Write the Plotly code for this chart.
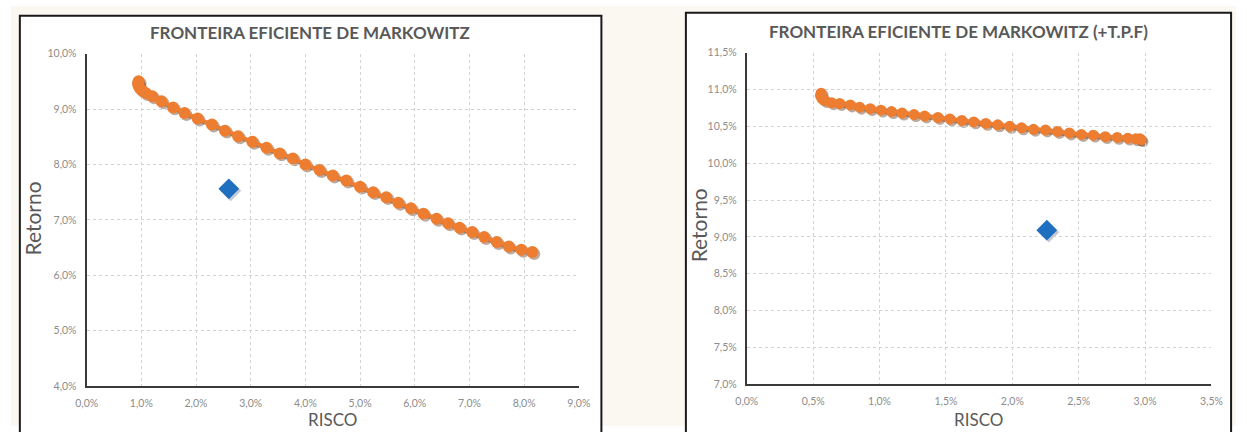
import plotly.graph_objects as go

W, H = 1247, 432

# ---- data (percent) ----
left_title = "FRONTEIRA EFICIENTE DE MARKOWITZ"
left_risk = [0.95, 0.94, 0.95, 0.97, 1.01, 1.08, 1.20, 1.37, 1.58, 1.79,
             2.03, 2.29, 2.53, 2.77, 3.03, 3.29, 3.53, 3.77, 4.00, 4.26,
             4.50, 4.75, 5.00, 5.24, 5.48, 5.70, 5.93, 6.16, 6.40, 6.61,
             6.82, 7.05, 7.27, 7.50, 7.72, 7.95, 8.15]
left_return = [9.50, 9.46, 9.42, 9.38, 9.34, 9.29, 9.23, 9.14, 9.03, 8.93,
               8.83, 8.72, 8.61, 8.51, 8.41, 8.30, 8.20, 8.11, 8.00, 7.90,
               7.80, 7.71, 7.60, 7.50, 7.41, 7.31, 7.21, 7.11, 7.02, 6.94,
               6.86, 6.78, 6.69, 6.60, 6.52, 6.46, 6.42]
left_portfolio_risk = [2.60]
left_portfolio_return = [7.56]

right_title = "FRONTEIRA EFICIENTE DE MARKOWITZ (+T.P.F)"
right_risk = [0.56, 0.555, 0.565, 0.59, 0.64, 0.70, 0.78, 0.85, 0.93, 1.01,
              1.09, 1.17, 1.26, 1.34, 1.44, 1.53, 1.62, 1.71, 1.80, 1.89,
              1.98, 2.07, 2.16, 2.25, 2.34, 2.43, 2.52, 2.61, 2.70, 2.79,
              2.87, 2.93, 2.96, 2.97]
right_return = [10.95, 10.92, 10.88, 10.85, 10.82, 10.81, 10.79, 10.76, 10.74, 10.72,
                10.70, 10.68, 10.66, 10.64, 10.62, 10.60, 10.58, 10.56, 10.54, 10.52,
                10.50, 10.48, 10.46, 10.45, 10.43, 10.41, 10.39, 10.38, 10.36, 10.35,
                10.34, 10.33, 10.33, 10.32]
right_portfolio_risk = [2.26]
right_portfolio_return = [9.09]

x_label = "RISCO"
y_label = "Retorno"

# ---- styling ----
FONT = "Lato"
ORANGE = "#ED7D31"
BLUE = "#1F6FC0"
SHADOW = "rgba(90,45,15,0.40)"
TICK_GRAY = "#8c8c8c"
TEXT_GRAY = "#595959"
CREAM = "#fbf7f1"


def px_x(p):
    return p / W


def px_y(p):
    return 1 - p / H


# plot-area boxes in pixels: (left, right, top, bottom)
L_BOX = (77, 578, 49, 391)
R_BOX = (749, 1222, 48, 389)
# outer chart frames in pixels: (left, right, top)
L_FRAME = (9, 601, 10)
R_FRAME = (687, 1242, 7)
SH = 2  # shadow offset in pixels

fig = go.Figure()


def frontier(xs, ys, xa, ya, size, color):
    fig.add_trace(go.Scatter(
        x=xs, y=ys, mode="lines+markers", xaxis=xa, yaxis=ya,
        line=dict(color=color, width=4),
        marker=dict(color=color, size=size, line=dict(width=0)),
        hoverinfo="skip", showlegend=False))


def portfolio(xs, ys, xa, ya, color):
    fig.add_trace(go.Scatter(
        x=xs, y=ys, mode="markers", xaxis=xa, yaxis=ya,
        marker=dict(symbol="diamond", size=16, color=color, line=dict(width=0)),
        hoverinfo="skip", showlegend=False))


# soft drop shadows on hidden axes shifted a couple of pixels right/down
frontier(left_risk, left_return, "x", "y", 12, SHADOW)
portfolio(left_portfolio_risk, left_portfolio_return, "x", "y", "rgba(20,40,80,0.25)")
frontier(right_risk, right_return, "x2", "y2", 11, SHADOW)
portfolio(right_portfolio_risk, right_portfolio_return, "x2", "y2", "rgba(20,40,80,0.25)")

# main series on the visible axes, drawn above the shadows
frontier(left_risk, left_return, "x3", "y3", 12, ORANGE)
portfolio(left_portfolio_risk, left_portfolio_return, "x3", "y3", BLUE)
frontier(right_risk, right_return, "x4", "y4", 11, ORANGE)
portfolio(right_portfolio_risk, right_portfolio_return, "x4", "y4", BLUE)


def axis_common():
    return dict(
        showgrid=True, gridcolor="#d2d2d2", gridwidth=1, griddash="dot",
        zeroline=False, showline=True, linecolor="#3a3a3a", linewidth=2,
        ticks="", ticksuffix="%", tickformat=".1f",
        tickfont=dict(family=FONT, size=10.5, color=TICK_GRAY),
        ticklabelstandoff=6, fixedrange=True,
    )


def hidden(rng, dom, anchor):
    return dict(range=rng, domain=dom, anchor=anchor, visible=False,
                showgrid=False, zeroline=False, fixedrange=True)


lx = [px_x(L_BOX[0]), px_x(L_BOX[1])]
ly = [px_y(L_BOX[3]), px_y(L_BOX[2])]
rx = [px_x(R_BOX[0]), px_x(R_BOX[1])]
ry = [px_y(R_BOX[3]), px_y(R_BOX[2])]


def shift_x(d):
    return [d[0] + SH / W, d[1] + SH / W]


def shift_y(d):
    return [d[0] - SH / H, d[1] - SH / H]


fig.update_layout(
    width=W, height=H,
    margin=dict(l=0, r=0, t=0, b=0),
    paper_bgcolor="white",
    plot_bgcolor="rgba(0,0,0,0)",
    separators=", ",
    font=dict(family=FONT, color=TEXT_GRAY),
    xaxis=hidden([0, 9], shift_x(lx), "y"),
    yaxis=hidden([4, 10], shift_y(ly), "x"),
    xaxis2=hidden([0, 3.5], shift_x(rx), "y2"),
    yaxis2=hidden([7, 11.5], shift_y(ry), "x2"),
    xaxis3=dict(axis_common(), range=[0, 9], dtick=1, domain=lx, anchor="y3"),
    yaxis3=dict(axis_common(), range=[4, 10], dtick=1, domain=ly, anchor="x3"),
    xaxis4=dict(axis_common(), range=[0, 3.5], dtick=0.5, domain=rx, anchor="y4"),
    yaxis4=dict(axis_common(), range=[7, 11.5], dtick=0.5, domain=ry, anchor="x4"),
)

# cream page around the two chart frames
cream_areas = [
    (0, W, 0, min(L_FRAME[2], R_FRAME[2])),      # top strip
    (0, L_FRAME[0], 0, H),                       # left margin
    (L_FRAME[1], R_FRAME[0], 0, H),              # gap between charts
    (R_FRAME[1], W, 0, H),                       # right margin
    (0, R_FRAME[0], 0, L_FRAME[2]),
]
for x0, x1, y0, y1 in cream_areas:
    fig.add_shape(type="rect", xref="paper", yref="paper",
                  x0=px_x(x0), x1=px_x(x1), y0=px_y(y1), y1=px_y(y0),
                  line=dict(width=0), fillcolor=CREAM, layer="below")

# chart frames
for (x0, x1, y0) in [L_FRAME, R_FRAME]:
    fig.add_shape(type="rect", xref="paper", yref="paper",
                  x0=px_x(x0), x1=px_x(x1), y0=-0.05, y1=px_y(y0),
                  line=dict(color="#1a1a1a", width=2), fillcolor="rgba(0,0,0,0)")

# titles and axis labels
for cx, cy, txt in [(304, 27, left_title), (965, 26, right_title)]:
    fig.add_annotation(x=px_x(cx), y=px_y(cy), xref="paper", yref="paper",
                       xanchor="center", yanchor="middle",
                       text="<b>" + txt + "</b>", showarrow=False,
                       font=dict(family=FONT, size=17, color=TEXT_GRAY))
for cx in [327, 985]:
    fig.add_annotation(x=px_x(cx), y=px_y(425), xref="paper", yref="paper",
                       xanchor="center", yanchor="middle",
                       text=x_label, showarrow=False,
                       font=dict(family=FONT, size=17, color=TEXT_GRAY))
for cx, cy in [(22, 219), (700, 226)]:
    fig.add_annotation(x=px_x(cx), y=px_y(cy), xref="paper", yref="paper",
                       xanchor="center", yanchor="middle",
                       text=y_label, showarrow=False, textangle=-90,
                       font=dict(family=FONT, size=21, color=TEXT_GRAY))

fig.write_html("out.html")
